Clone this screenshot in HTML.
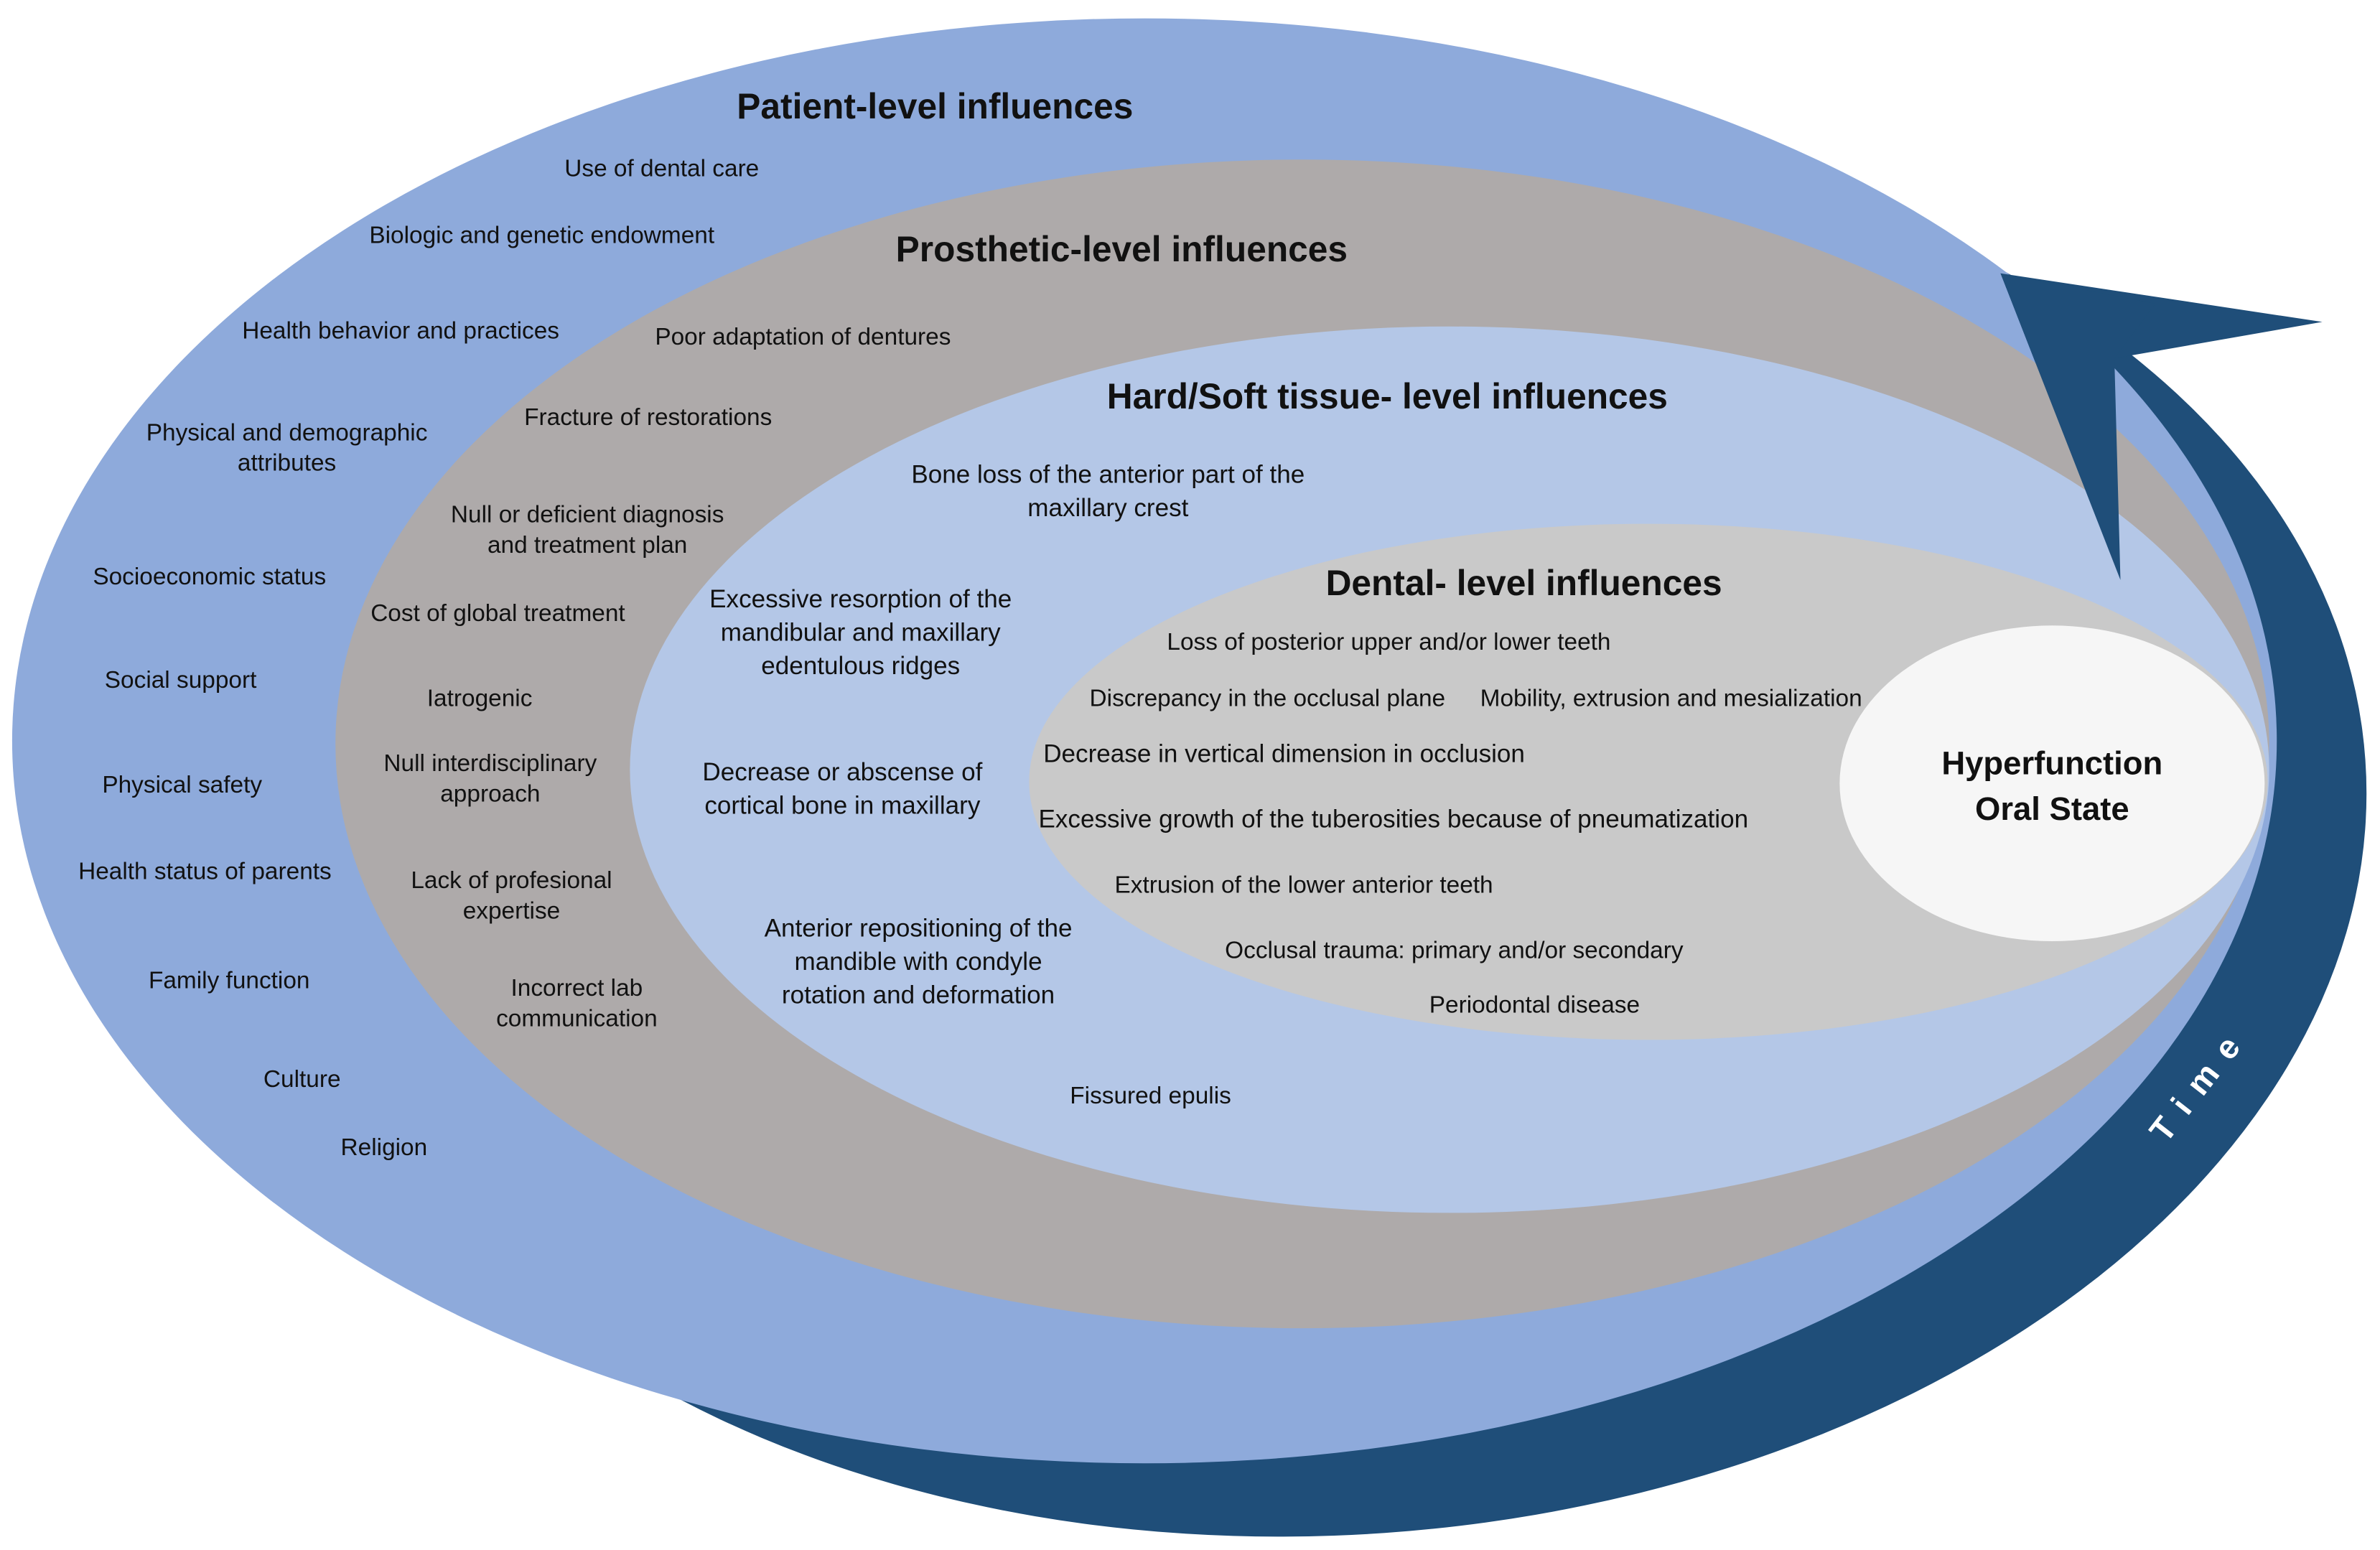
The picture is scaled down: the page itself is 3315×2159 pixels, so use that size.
<!DOCTYPE html>
<html><head><meta charset="utf-8"><style>
html,body{margin:0;padding:0;background:#fff;}
svg{display:block;}
text{font-family:"Liberation Sans","DejaVu Sans",sans-serif;fill:#111;}
.s{font-size:15.8px;}
.m{font-size:16.6px;}
.h{font-size:23.5px;font-weight:bold;}
</style></head><body>
<svg width="3315" height="2159" viewBox="0 0 1568 1021" xmlns="http://www.w3.org/2000/svg">
<rect width="1568" height="1021" fill="#fff"/>
<ellipse cx="880" cy="548" rx="680" ry="463" fill="#1f4e79" transform="rotate(-4 880 548)"/>
<ellipse cx="754" cy="488" rx="746" ry="476" fill="#8eaadb"/>
<polygon points="1318,180 1530,212 1393,236 1392,270 1397,382" fill="#1f4e79"/>
<ellipse cx="858" cy="490" rx="637" ry="385" fill="#aeaaaa"/>
<ellipse cx="955" cy="507" rx="540" ry="292" fill="#b4c7e7"/>
<ellipse cx="1086" cy="515" rx="408" ry="170" fill="#c9c9c9"/>
<ellipse cx="1352" cy="516" rx="140" ry="104" fill="#f6f6f6"/>
<polygon points="1318,180 1420,200 1393,236 1397,382" fill="#1f4e79"/>

<text class="h" x="616" y="78" text-anchor="middle">Patient-level influences</text>
<text class="h" x="739" y="172" text-anchor="middle">Prosthetic-level influences</text>
<text class="h" x="914" y="269" text-anchor="middle">Hard/Soft tissue- level influences</text>
<text class="h" x="1004" y="392" text-anchor="middle">Dental- level influences</text>
<text class="h" x="1352" y="510" text-anchor="middle" style="font-size:21.5px">Hyperfunction</text>
<text class="h" x="1352" y="540" text-anchor="middle" style="font-size:21.5px">Oral State</text>

<g text-anchor="middle">
<text class="s" x="436" y="116">Use of dental care</text>
<text class="s" x="357" y="160">Biologic and genetic endowment</text>
<text class="s" x="264" y="223">Health behavior and practices</text>
<text class="s" x="189" y="290">Physical and demographic</text>
<text class="s" x="189" y="310">attributes</text>
<text class="s" x="138" y="385">Socioeconomic status</text>
<text class="s" x="119" y="453">Social support</text>
<text class="s" x="120" y="522">Physical safety</text>
<text class="s" x="135" y="579">Health status of parents</text>
<text class="s" x="151" y="651">Family function</text>
<text class="s" x="199" y="716">Culture</text>
<text class="s" x="253" y="761">Religion</text>

<text class="s" x="529" y="227">Poor adaptation of dentures</text>
<text class="s" x="427" y="280">Fracture of restorations</text>
<text class="s" x="387" y="344">Null or deficient diagnosis</text>
<text class="s" x="387" y="364">and treatment plan</text>
<text class="s" x="328" y="409">Cost of global treatment</text>
<text class="s" x="316" y="465">Iatrogenic</text>
<text class="s" x="323" y="508">Null interdisciplinary</text>
<text class="s" x="323" y="528">approach</text>
<text class="s" x="337" y="585">Lack of profesional</text>
<text class="s" x="337" y="605">expertise</text>
<text class="s" x="380" y="656">Incorrect lab</text>
<text class="s" x="380" y="676">communication</text>

<text class="m" x="730" y="318">Bone loss of the anterior part of the</text>
<text class="m" x="730" y="340">maxillary crest</text>
<text class="m" x="567" y="400">Excessive resorption of the</text>
<text class="m" x="567" y="422">mandibular and maxillary</text>
<text class="m" x="567" y="444">edentulous ridges</text>
<text class="m" x="555" y="514">Decrease or abscense of</text>
<text class="m" x="555" y="536">cortical bone in maxillary</text>
<text class="m" x="605" y="617">Anterior repositioning of the</text>
<text class="m" x="605" y="639">mandible with condyle</text>
<text class="m" x="605" y="661">rotation and deformation</text>
<text class="s" x="758" y="727">Fissured epulis</text>

<text class="s" x="915" y="428">Loss of posterior upper and/or lower teeth</text>
<text class="s" x="835" y="465">Discrepancy in the occlusal plane</text>
<text class="s" x="1101" y="465">Mobility, extrusion and mesialization</text>
<text class="m" x="846" y="502">Decrease in vertical dimension in occlusion</text>
<text class="m" x="918" y="545">Excessive growth of the tuberosities because of pneumatization</text>
<text class="s" x="859" y="588">Extrusion of the lower anterior teeth</text>
<text class="s" x="958" y="631">Occlusal trauma: primary and/or secondary</text>
<text class="s" x="1011" y="667">Periodontal disease</text>
</g>
<text x="1455" y="718" transform="rotate(-52 1455 718)" text-anchor="middle" style="fill:#fff;font-size:22px;font-weight:bold;letter-spacing:10px">Time</text>
</svg>
</body></html>
